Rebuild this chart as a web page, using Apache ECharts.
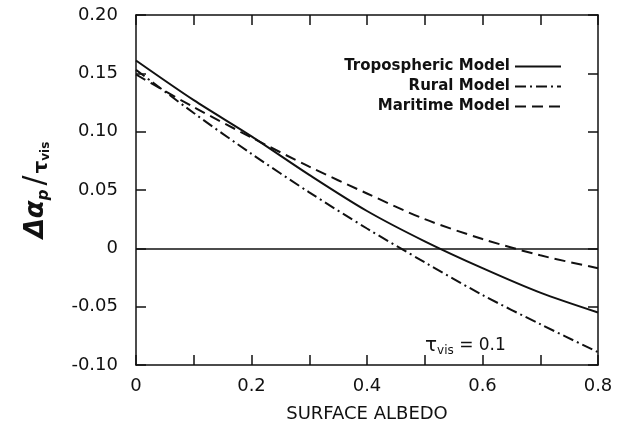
<!DOCTYPE html>
<html>
<head>
<meta charset="utf-8">
<script src="https://cdn.jsdelivr.net/npm/echarts@6/dist/echarts.min.js"></script>
<style>
html,body{margin:0;padding:0;background:#fff;}
#chart{width:622px;height:438px;}
</style>
</head>
<body>
<div id="chart"></div>
<script>
// Data
var albedo = [0, 0.1, 0.2, 0.3, 0.4, 0.5, 0.6, 0.7, 0.8];
var tropospheric = [0.161, 0.127, 0.096, 0.063, 0.032, 0.006, -0.017, -0.038, -0.055];
var rural = [0.153, 0.116, 0.081, 0.048, 0.017, -0.012, -0.040, -0.065, -0.089];
var maritime = [0.149, 0.121, 0.095, 0.070, 0.047, 0.025, 0.008, -0.006, -0.017];
var seriesNames = ['Tropospheric Model', 'Rural Model', 'Maritime Model'];
var xTicks = ['0', '0.2', '0.4', '0.6', '0.8'];
var yTicks = ['-0.10', '-0.05', '0', '0.05', '0.10', '0.15', '0.20'];

function pairs(ys) { return albedo.map(function (x, i) { return [x, ys[i]]; }); }

var ink = '#111';
var font = 'DejaVu Sans';
var chart = echarts.init(document.getElementById('chart'));

function xLabel(v) {
  var s = (Math.round(v * 10) / 10);
  var str = s === 0 ? '0' : s.toFixed(1);
  return xTicks.indexOf(str) >= 0 ? str : '';
}
function yLabel(v) {
  var s = Math.round(v * 100) / 100;
  var str = s === 0 ? '0' : s.toFixed(2);
  return yTicks.indexOf(str) >= 0 ? str : '';
}

function axisLineStyle() { return { show: true, onZero: false, lineStyle: { color: ink, width: 1.5 } }; }
var tickStyle = { show: true, inside: true, length: 10, lineStyle: { color: ink, width: 1.5 } };

var option = {
  backgroundColor: '#fff',
  animation: false,
  grid: { left: 136, right: 24, top: 15, bottom: 73 },
  legend: {
    orient: 'vertical',
    right: 55,
    top: 54,
    align: 'right',
    itemWidth: 46,
    itemHeight: 14,
    itemGap: 5,
    data: seriesNames,
    itemStyle: { opacity: 0 },
    textStyle: { fontFamily: font, fontWeight: 'bold', fontSize: 15, color: ink }
  },
  xAxis: [
    {
      type: 'value', min: 0, max: 0.8, interval: 0.1, position: 'bottom',
      name: 'SURFACE ALBEDO', nameLocation: 'middle', nameGap: 40,
      nameTextStyle: { fontFamily: font, fontSize: 18, color: ink },
      axisLine: axisLineStyle(), axisTick: tickStyle, splitLine: { show: false },
      axisLabel: { formatter: xLabel, fontFamily: font, fontSize: 18, color: ink, margin: 12 }
    },
    {
      type: 'value', min: 0, max: 0.8, interval: 0.1, position: 'top',
      axisLine: axisLineStyle(), axisTick: tickStyle, splitLine: { show: false },
      axisLabel: { show: false }
    }
  ],
  yAxis: [
    {
      type: 'value', min: -0.1, max: 0.2, interval: 0.05, position: 'left',
      name: '{a|Δα}{sub|p}{sl|/}{t|τ}{sub2|vis}',
      nameLocation: 'middle', nameGap: 84, nameRotate: 90,
      nameTextStyle: {
        color: ink,
        rich: {
          a: { fontFamily: font, fontWeight: 'bold', fontStyle: 'italic', fontSize: 26, color: ink, lineHeight: 32, verticalAlign: 'middle' },
          sub: { fontFamily: font, fontWeight: 'bold', fontStyle: 'italic', fontSize: 15, color: ink, verticalAlign: 'bottom', lineHeight: 15 },
          sl: { fontFamily: font, fontSize: 30, color: ink, lineHeight: 32, padding: [0, 2, 0, 4], verticalAlign: 'middle' },
          t: { fontFamily: font, fontWeight: 'bold', fontSize: 20, color: ink, verticalAlign: 'bottom', lineHeight: 24 },
          sub2: { fontFamily: font, fontWeight: 'bold', fontSize: 12, color: ink, verticalAlign: 'bottom', lineHeight: 13 }
        }
      },
      axisLine: axisLineStyle(), axisTick: tickStyle, splitLine: { show: false },
      axisLabel: { formatter: yLabel, fontFamily: font, fontSize: 18, color: ink, margin: 18 }
    },
    {
      type: 'value', min: -0.1, max: 0.2, interval: 0.05, position: 'right',
      axisLine: axisLineStyle(), axisTick: tickStyle, splitLine: { show: false },
      axisLabel: { show: false }
    }
  ],
  series: [
    {
      name: seriesNames[0], type: 'line', data: pairs(tropospheric), smooth: 0.3,
      symbol: 'none', lineStyle: { color: ink, width: 2, type: 'solid' }, itemStyle: { color: ink },
      markLine: {
        silent: true, symbol: ['none', 'none'], label: { show: false },
        lineStyle: { color: ink, width: 1.5, type: 'solid' },
        data: [{ yAxis: 0 }]
      }
    },
    {
      name: seriesNames[1], type: 'line', data: pairs(rural), smooth: 0.3,
      symbol: 'none', lineStyle: { color: ink, width: 2, type: [11, 4, 2, 4] }, itemStyle: { color: ink }
    },
    {
      name: seriesNames[2], type: 'line', data: pairs(maritime), smooth: 0.3,
      symbol: 'none', lineStyle: { color: ink, width: 2, type: [11, 6] }, itemStyle: { color: ink }
    }
  ],
  graphic: [
    {
      type: 'text', left: 425, top: 336,
      style: {
        text: '{t|τ}{s|vis}{n| = 0.1}',
        rich: {
          t: { fontFamily: font, fontSize: 20, fill: ink, verticalAlign: 'middle', lineHeight: 22 },
          s: { fontFamily: font, fontSize: 12, fill: ink, verticalAlign: 'bottom', lineHeight: 12 },
          n: { fontFamily: font, fontSize: 17, fill: ink, verticalAlign: 'middle', lineHeight: 22 }
        }
      }
    }
  ]
};
chart.setOption(option);
</script>
</body>
</html>
